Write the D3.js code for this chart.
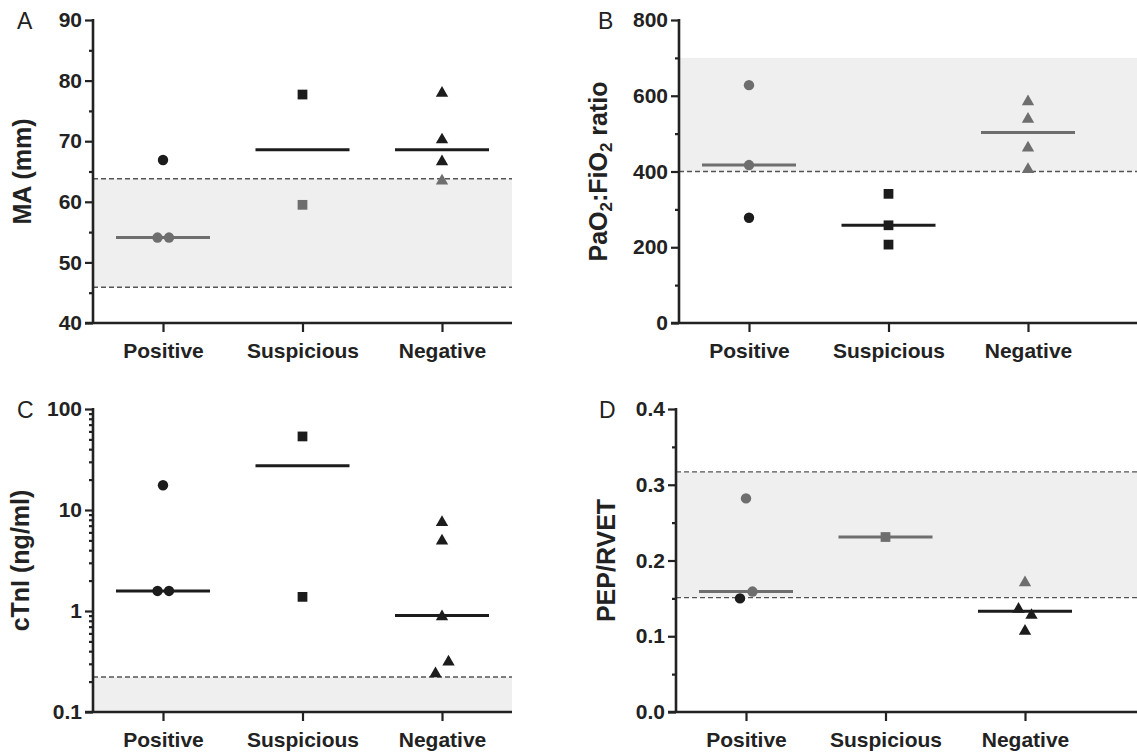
<!DOCTYPE html>
<html>
<head>
<meta charset="utf-8">
<script src="https://cdn.jsdelivr.net/npm/d3@7"></script>
<style>
  body { margin: 0; background: #fff; }
  svg { display: block; font-family: "Liberation Sans", Arial, sans-serif; }
  .tick text { font-weight: bold; font-size: 21px; fill: #222; }
  .domain { display: none; }
</style>
</head>
<body>
<svg width="1137" height="756"></svg>
<script>
const categories = ["Positive", "Suspicious", "Negative"];

// A: MA (mm)
const maValues = [[66.9, 54.1, 54.1], [77.7, 59.5], [78.1, 70.4, 66.8, 63.6]];
const maJitter = [[0, -5.5, 6], [0, 0], [0, 0, 0, 0]];
const maTicks = [40, 50, 60, 70, 80, 90];
const maRange = [45.9, 63.8];

// B: PaO2:FiO2
const pfValues = [[628, 417, 278], [341, 258, 207], [587, 541, 465, 408]];
const pfJitter = [[0, 0, 0], [0, 0, 0], [0, 0, 0, 0]];
const pfTicks = [0, 200, 400, 600, 800];
const pfRange = [400, 700];

// C: cTnI (log)
const ctValues = [[17.6, 1.58, 1.58], [53.5, 1.38], [7.7, 5.05, 0.9, 0.32, 0.245]];
const ctJitter = [[0, -5.5, 6], [0, 0], [0, 0, 0, 6.5, -6.5]];
const ctTicks = [0.1, 1, 10, 100];
const ctRange = [0.1, 0.222];

// D: PEP/RVET
const peValues = [[0.282, 0.159, 0.150], [0.231], [0.172, 0.137, 0.129, 0.108]];
const peJitter = [[0, 6.5, -6], [0], [0, -6.5, 6.5, 0]];
const peTicks = [0.0, 0.1, 0.2, 0.3, 0.4];
const peRange = [0.151, 0.317];

const BLACK = "#1c1c1c", GRAY = "#6e6e6e";
const svg = d3.select("svg");

function panel(o) {
  const g = svg.append("g");
  const y = o.log
    ? d3.scaleLog().domain([0.1, 100]).range([o.bottom, o.top])
    : d3.scaleLinear().domain(o.domain).range([o.bottom, o.top]);
  const x = d3.scalePoint().domain(categories).range([o.axisX + 70, o.axisX + 349]);

  // shaded reference range
  g.append("rect")
    .attr("x", o.axisX).attr("width", o.right - o.axisX)
    .attr("y", y(o.range[1])).attr("height", y(o.range[0]) - y(o.range[1]))
    .attr("fill", "#efefef");
  g.selectAll(".ref").data(o.dashed).enter().append("line")
    .attr("x1", o.axisX).attr("x2", o.right)
    .attr("y1", d => y(d)).attr("y2", d => y(d))
    .attr("stroke", "#555").attr("stroke-width", 1.4).attr("stroke-dasharray", "5,3");

  // y axis: minor + major ticks
  g.append("g").attr("transform", `translate(${o.axisX},0)`)
    .call(d3.axisLeft(y).tickValues(o.minor).tickSize(4).tickFormat(""))
    .selectAll("line").attr("stroke", "#222").attr("stroke-width", 2.2);
  const ya = g.append("g").attr("transform", `translate(${o.axisX},0)`)
    .call(d3.axisLeft(y).tickValues(o.ticks).tickSize(8).tickPadding(3).tickFormat(o.fmt));
  ya.selectAll("line").attr("stroke", "#222").attr("stroke-width", 2.2);
  g.append("line").attr("x1", o.axisX).attr("x2", o.axisX)
    .attr("y1", o.top - 1).attr("y2", o.bottom)
    .attr("stroke", "#222").attr("stroke-width", 2.6);

  // x axis
  const xa = g.append("g").attr("transform", `translate(0,${o.bottom})`)
    .call(d3.axisBottom(x).tickSize(9).tickPadding(11));
  xa.selectAll("line").attr("stroke", "#222").attr("stroke-width", 2.2);
  g.append("line").attr("x1", o.axisX - 8).attr("x2", o.right)
    .attr("y1", o.bottom).attr("y2", o.bottom)
    .attr("stroke", "#222").attr("stroke-width", 2.6);

  // y label
  const lab = g.append("text")
    .attr("transform", `translate(${o.labelX},${(o.top + o.bottom) / 2}) rotate(-90)`)
    .attr("text-anchor", "middle").attr("font-size", "25px").attr("font-weight", "bold")
    .attr("fill", "#222");
  o.label.forEach(p => {
    const t = lab.append("tspan").text(p.t);
    if (p.sub) t.attr("font-size", "17px").attr("dy", "5");
    if (p.up) t.attr("dy", "-5");
  });

  // panel letter
  g.append("text").attr("x", o.letterX).attr("y", o.top + 9)
    .attr("font-size", "23px").attr("fill", "#222").text(o.letter);

  const inRange = v => v >= o.range[0] && v <= o.range[1];

  // medians
  g.selectAll(".med").data(o.values).enter().append("line")
    .attr("x1", (d, i) => x(categories[i]) - 47)
    .attr("x2", (d, i) => x(categories[i]) + 47)
    .attr("y1", d => y(d3.median(d))).attr("y2", d => y(d3.median(d)))
    .attr("stroke", d => inRange(d3.median(d)) ? GRAY : BLACK)
    .attr("stroke-width", 3);

  // points
  const shapes = [d3.symbolCircle, d3.symbolSquare, d3.symbolTriangle];
  const sizes = [85, 95, 66];
  o.values.forEach((vals, i) => {
    g.selectAll(null).data(vals).enter().append("path")
      .attr("d", d3.symbol().type(shapes[i]).size(sizes[i]))
      .attr("transform", (d, j) => `translate(${x(categories[i]) + o.jitter[i][j]},${y(d) + (i === 2 ? 1 : 0)})`)
      .attr("fill", d => inRange(d) ? GRAY : BLACK);
  });
}

const minorLog = [];
[0.1, 1, 10].forEach(b => { for (let k = 2; k <= 9; k++) minorLog.push(b * k); });

panel({ letter: "A", letterX: 17, axisX: 93, right: 512, top: 20, bottom: 323,
  domain: [40, 90], ticks: maTicks, minor: d3.range(45, 90, 10), fmt: d3.format("d"),
  values: maValues, jitter: maJitter, range: maRange, dashed: maRange,
  labelX: 31, label: [{ t: "MA (mm)" }] });

panel({ letter: "B", letterX: 598, axisX: 679, right: 1137, top: 20, bottom: 323,
  domain: [0, 800], ticks: pfTicks, minor: d3.range(100, 800, 200), fmt: d3.format("d"),
  values: pfValues, jitter: pfJitter, range: pfRange, dashed: [400],
  labelX: 607, label: [{ t: "PaO" }, { t: "2", sub: true }, { t: ":FiO", up: true }, { t: "2", sub: true }, { t: " ratio", up: true }] });

panel({ letter: "C", letterX: 17, axisX: 93, right: 512, top: 409, bottom: 712, log: true,
  ticks: ctTicks, minor: minorLog, fmt: d => d < 1 ? "0.1" : d3.format("d")(d),
  values: ctValues, jitter: ctJitter, range: ctRange, dashed: [0.222],
  labelX: 29, label: [{ t: "cTnI (ng/ml)" }] });

panel({ letter: "D", letterX: 599, axisX: 676, right: 1137, top: 409, bottom: 712,
  domain: [0, 0.4], ticks: peTicks, minor: [0.05, 0.15, 0.25, 0.35], fmt: d3.format(".1f"),
  values: peValues, jitter: peJitter, range: peRange, dashed: peRange,
  labelX: 615, label: [{ t: "PEP/RVET" }] });
</script>
</body>
</html>
